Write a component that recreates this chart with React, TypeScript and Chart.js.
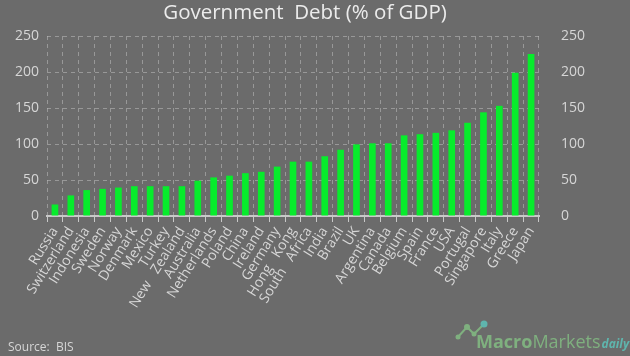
import React, { useEffect, useRef } from "react";
import { Chart, registerables } from "chart.js";

Chart.register(...registerables);

const countries = [
  "Russia", "Switzerland", "Indonesia", "Sweden", "Norway", "Denmark", "Mexico", "Turkey",
  "New   Zealand", "Australia", "Netherlands", "Poland", "China", "Ireland", "Germany",
  "Hong   Kong", "South   Africa", "India", "Brazil", "UK", "Argentina", "Canada", "Belgium",
  "Spain", "France", "USA", "Portugal", "Singapore", "Italy", "Greece", "Japan",
];

const debtPctGdp = [
  16, 28.6, 36, 37.7, 39.5, 41.4, 41.4, 41.4, 41.4, 49, 53.6, 56, 59.5, 61.4, 68.6,
  75.5, 75.5, 83, 92, 99.5, 101, 101, 112, 113.6, 115.5, 119, 129.5, 144, 153, 199, 225,
];

const yTicks = [0, 50, 100, 150, 200, 250];

const titleText = "Government  Debt (% of GDP)";
const sourceText = "Source:  BIS";

const FONT = "'Open Sans', 'Noto Sans', sans-serif";
const BG = "#6b6b6b";
const TEXT = "#d6d6d6";
const GRID = "rgba(190,190,190,0.55)";

const decorPlugin = {
  id: "decor",
  beforeDraw(chart: any) {
    const { ctx, width, height } = chart;
    ctx.save();
    ctx.fillStyle = BG;
    ctx.fillRect(0, 0, width, height);
    ctx.restore();
  },
  afterDraw(chart: any) {
    const { ctx } = chart;
    ctx.save();
    // title
    ctx.fillStyle = "#ececec";
    ctx.font = `20.5px ${FONT}`;
    ctx.textAlign = "center";
    ctx.textBaseline = "middle";
    ctx.fillText(titleText, 305, 13);
    // source
    ctx.fillStyle = TEXT;
    ctx.font = `12px ${FONT}`;
    ctx.textAlign = "left";
    ctx.textBaseline = "alphabetic";
    ctx.fillText(sourceText, 8, 351);
    // logo icon
    ctx.strokeStyle = "#7fb07f";
    ctx.lineWidth = 2;
    ctx.beginPath();
    ctx.moveTo(458, 337);
    ctx.lineTo(467, 327);
    ctx.lineTo(474, 334);
    ctx.lineTo(483, 325);
    ctx.stroke();
    const dot = (x: number, y: number, r: number, c: string) => {
      ctx.fillStyle = c;
      ctx.beginPath();
      ctx.arc(x, y, r, 0, Math.PI * 2);
      ctx.fill();
    };
    dot(458, 337, 2.5, "#7fb07f");
    dot(467, 327, 3, "#7fb07f");
    dot(474, 334, 2.5, "#7fb07f");
    dot(484, 324, 3.5, "#5fb5ad");
    // logo text
    ctx.textBaseline = "alphabetic";
    ctx.fillStyle = "#7fb07f";
    ctx.font = `bold 18px ${FONT}`;
    let x = 476;
    ctx.fillText("Macro", x, 348);
    x += ctx.measureText("Macro").width;
    ctx.font = `18px ${FONT}`;
    ctx.fillText("Markets", x, 348);
    x += ctx.measureText("Markets").width + 1;
    ctx.fillStyle = "#5fb5ad";
    ctx.font = `italic bold 12px ${FONT}`;
    ctx.fillText("daily", x, 348);
    ctx.restore();
  },
};

export default function App() {
  const ref = useRef<HTMLCanvasElement | null>(null);

  useEffect(() => {
    document.body.style.margin = "0";
    const canvas = ref.current;
    if (!canvas) return;
    const yTickCb = (v: any) => (yTicks.includes(Number(v)) ? String(v) : "");
    const chart = new Chart(canvas, {
      type: "bar",
      data: {
        labels: countries,
        datasets: [
          {
            data: debtPctGdp,
            backgroundColor: "#07ec2c",
            borderWidth: 0,
            barPercentage: 0.42,
            categoryPercentage: 1,
            yAxisID: "y",
          },
        ],
      },
      plugins: [decorPlugin],
      options: {
        responsive: false,
        animation: false,
        devicePixelRatio: 1,
        layout: { padding: { top: 36, left: 0, right: 0, bottom: 0 } },
        plugins: { legend: { display: false }, tooltip: { enabled: false }, title: { display: false } },
        scales: {
          x: {
            grid: {
              display: true,
              color: GRID,
              drawTicks: true,
              tickLength: 6,
              tickColor: "#c8c8c8",
              tickBorderDash: [],
              offset: true,
            },
            border: { display: true, color: "#c8c8c8", width: 2, dash: [4, 4] },
            ticks: {
              autoSkip: false,
              maxRotation: 58,
              minRotation: 58,
              color: TEXT,
              font: { family: FONT, size: 14 },
              padding: 2,
            },
            afterFit: (s: any) => {
              s.height = 140;
            },
          },
          y: {
            position: "left",
            min: 0,
            max: 250,
            grid: { color: GRID, drawTicks: false },
            border: { display: false, dash: [4, 4] },
            ticks: {
              stepSize: 50,
              color: TEXT,
              font: { family: FONT, size: 14 },
              padding: 8,
              callback: yTickCb,
            },
            afterFit: (s: any) => {
              s.width = 47;
            },
          },
          y2: {
            position: "right",
            min: 0,
            max: 250,
            grid: { display: false, drawTicks: false },
            border: { display: false },
            ticks: {
              stepSize: 50,
              color: TEXT,
              font: { family: FONT, size: 14 },
              padding: 22,
              callback: yTickCb,
            },
            afterFit: (s: any) => {
              s.width = 91;
            },
          },
        },
      },
    });
    return () => chart.destroy();
  }, []);

  return (
    <div style={{ width: 630, height: 356, background: BG }}>
      <canvas ref={ref} width={630} height={356} style={{ display: "block" }} />
    </div>
  );
}
